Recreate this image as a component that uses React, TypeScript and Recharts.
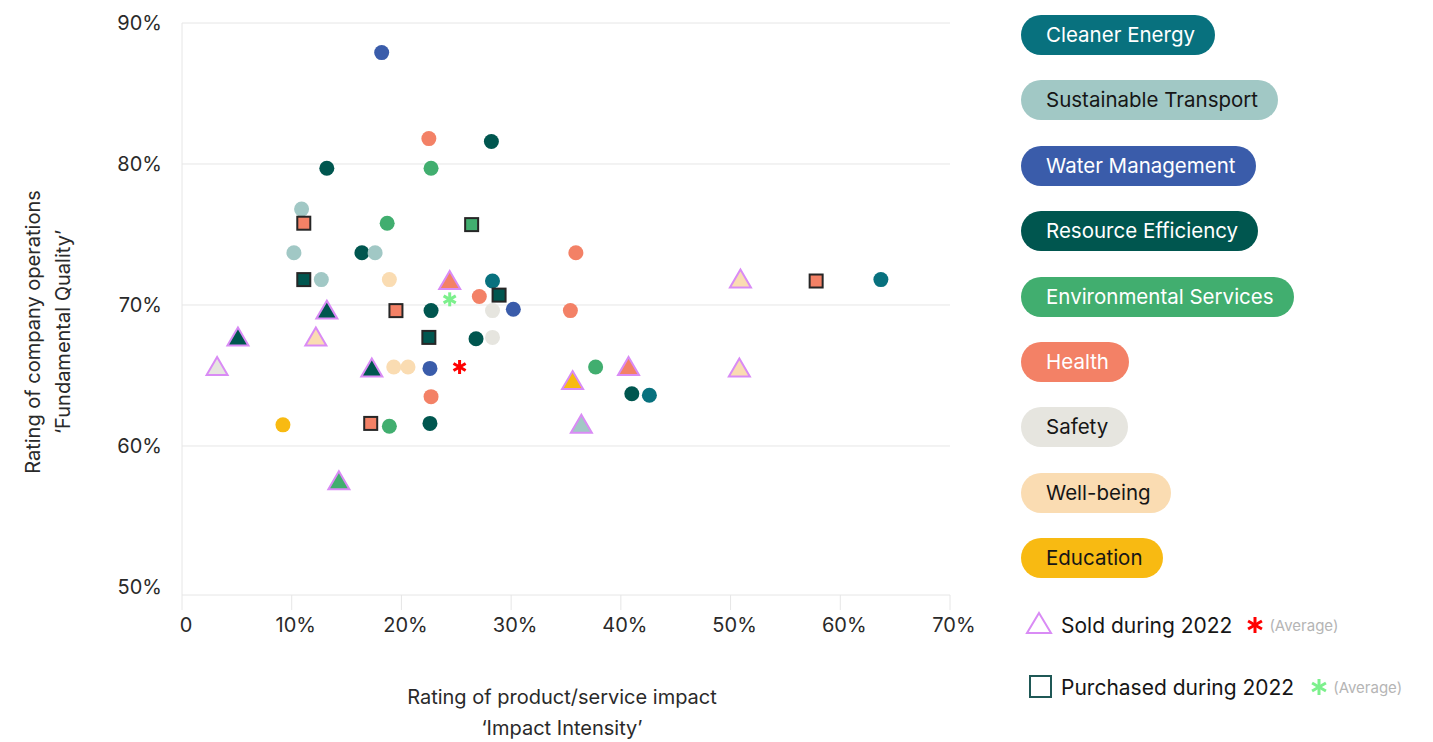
import React from 'react';
import { ScatterChart, Scatter, XAxis, YAxis, ReferenceLine } from 'recharts';

const categories = [
  'Cleaner Energy',
  'Sustainable Transport',
  'Water Management',
  'Resource Efficiency',
  'Environmental Services',
  'Health',
  'Safety',
  'Well-being',
  'Education',
];
const categoryColors = ['#08717e', '#a1c8c5', '#3a5caa', '#00564f', '#41ae6f', '#f38166', '#e6e5df', '#fadcb2', '#f8ba12'];
const categoryTextColors = ['#ffffff', '#161616', '#ffffff', '#ffffff', '#ffffff', '#ffffff', '#161616', '#161616', '#161616'];

const xTicks = [0, 10, 20, 30, 40, 50, 60, 70];
const yTicks = [50, 60, 70, 80, 90];
const yGridValues = [60, 70, 80, 90];

// holdings (circles), ordered roughly as drawn
const heldHoldings = [
  { category: 'Resource Efficiency', x: 13.2, y: 79.7 },
  { category: 'Resource Efficiency', x: 28.2, y: 81.6 },
  { category: 'Resource Efficiency', x: 16.4, y: 73.7 },
  { category: 'Resource Efficiency', x: 22.7, y: 69.6 },
  { category: 'Resource Efficiency', x: 26.8, y: 67.6 },
  { category: 'Resource Efficiency', x: 41.0, y: 63.7 },
  { category: 'Resource Efficiency', x: 22.6, y: 61.6 },
  { category: 'Cleaner Energy', x: 63.7, y: 71.8 },
  { category: 'Cleaner Energy', x: 42.6, y: 63.6 },
  { category: 'Cleaner Energy', x: 28.3, y: 71.7 },
  { category: 'Sustainable Transport', x: 10.9, y: 76.8 },
  { category: 'Sustainable Transport', x: 10.2, y: 73.7 },
  { category: 'Sustainable Transport', x: 17.6, y: 73.7 },
  { category: 'Sustainable Transport', x: 12.7, y: 71.8 },
  { category: 'Water Management', x: 18.2, y: 87.9 },
  { category: 'Water Management', x: 30.2, y: 69.7 },
  { category: 'Water Management', x: 22.6, y: 65.5 },
  { category: 'Environmental Services', x: 18.7, y: 75.8 },
  { category: 'Environmental Services', x: 22.7, y: 79.7 },
  { category: 'Environmental Services', x: 37.7, y: 65.6 },
  { category: 'Environmental Services', x: 18.9, y: 61.4 },
  { category: 'Health', x: 22.5, y: 81.8 },
  { category: 'Health', x: 35.9, y: 73.7 },
  { category: 'Health', x: 27.1, y: 70.6 },
  { category: 'Health', x: 35.4, y: 69.6 },
  { category: 'Health', x: 22.7, y: 63.5 },
  { category: 'Safety', x: 28.3, y: 69.6 },
  { category: 'Safety', x: 28.3, y: 67.7 },
  { category: 'Well-being', x: 18.9, y: 71.8 },
  { category: 'Well-being', x: 19.3, y: 65.6 },
  { category: 'Well-being', x: 20.6, y: 65.6 },
  { category: 'Education', x: 9.2, y: 61.5 },
];

// sold during 2022 (triangles)
const soldHoldings = [
  { category: 'Safety', x: 3.2, y: 65.6 },
  { category: 'Resource Efficiency', x: 5.1, y: 67.7 },
  { category: 'Well-being', x: 12.2, y: 67.7 },
  { category: 'Resource Efficiency', x: 13.2, y: 69.6 },
  { category: 'Resource Efficiency', x: 17.3, y: 65.5 },
  { category: 'Health', x: 24.4, y: 71.7 },
  { category: 'Environmental Services', x: 14.3, y: 57.5 },
  { category: 'Education', x: 35.6, y: 64.6 },
  { category: 'Health', x: 40.7, y: 65.6 },
  { category: 'Sustainable Transport', x: 36.4, y: 61.5 },
  { category: 'Well-being', x: 50.9, y: 71.8 },
  { category: 'Well-being', x: 50.8, y: 65.5 },
];

// purchased during 2022 (squares)
const purchasedHoldings = [
  { category: 'Health', x: 11.1, y: 75.8 },
  { category: 'Resource Efficiency', x: 11.1, y: 71.8 },
  { category: 'Health', x: 19.5, y: 69.6 },
  { category: 'Resource Efficiency', x: 22.5, y: 67.7 },
  { category: 'Environmental Services', x: 26.4, y: 75.7 },
  { category: 'Resource Efficiency', x: 28.9, y: 70.7 },
  { category: 'Health', x: 17.2, y: 61.6 },
  { category: 'Health', x: 57.8, y: 71.7 },
];

const soldAverage = [{ x: 25.3, y: 65.6 }];
const purchasedAverage = [{ x: 24.4, y: 70.4 }];

const FONT = 'Inter, "Liberation Sans", sans-serif';
const SOLD_STROKE = '#d98bf5';
const SOLD_AVG = '#ff0000';
const PURCHASED_AVG = '#7cf08c';
const GRID = '#e6e6e6';

const colorOf = (cat: string) => categoryColors[categories.indexOf(cat)] || '#999';

const CircleShape = (props: any) => {
  const { cx, cy, payload } = props;
  if (cx == null || cy == null) return null;
  return <circle cx={cx} cy={cy} r={7.5} fill={colorOf(payload.category)} />;
};

const TriangleShape = (props: any) => {
  const { cx, cy, payload } = props;
  if (cx == null || cy == null) return null;
  const pts = `${cx},${cy - 10} ${cx + 10.5},${cy + 8} ${cx - 10.5},${cy + 8}`;
  return <polygon points={pts} fill={colorOf(payload.category)} stroke={SOLD_STROKE} strokeWidth={2} />;
};

const SquareShape = (props: any) => {
  const { cx, cy, payload } = props;
  if (cx == null || cy == null) return null;
  return (
    <rect x={cx - 6.5} y={cy - 6.5} width={13} height={13} fill={colorOf(payload.category)} stroke="#262626" strokeWidth={2} />
  );
};

const asterisk = (cx: number, cy: number, color: string, r = 7) => (
  <g stroke={color} strokeWidth={3} strokeLinecap="butt">
    {[0, 60, 120].map((a) => {
      const rad = (a * Math.PI) / 180;
      const dx = Math.sin(rad) * r;
      const dy = Math.cos(rad) * r;
      return <line key={a} x1={cx - dx} y1={cy - dy} x2={cx + dx} y2={cy + dy} />;
    })}
  </g>
);

const AvgShape = (color: string) => (props: any) => {
  const { cx, cy } = props;
  if (cx == null || cy == null) return null;
  return asterisk(cx, cy, color);
};

const YTitleGroup = (props: any) => {
  const vb = props.viewBox || { x: 0, y: 23, width: 182, height: 572 };
  const cy = vb.y + vb.height / 2 + 23;
  return (
    <g fontFamily={FONT} fontSize={20} fill="#2a2a2a">
      <text x={vb.x + 33} y={cy} textAnchor="middle" dominantBaseline="central" transform={`rotate(-90 ${vb.x + 33} ${cy})`}>
        Rating of company operations
      </text>
      <text x={vb.x + 63} y={cy} textAnchor="middle" dominantBaseline="central" transform={`rotate(-90 ${vb.x + 63} ${cy})`}>
        ‘Fundamental Quality’
      </text>
    </g>
  );
};

const XTitleGroup = (props: any) => {
  const vb = props.viewBox || { x: 182, y: 595, width: 768, height: 45 };
  const cx = vb.x + 380;
  return (
    <g fontFamily={FONT} fontSize={20} fill="#2a2a2a">
      <text x={cx} y={vb.y + 102} textAnchor="middle" dominantBaseline="central">
        Rating of product/service impact
      </text>
      <text x={cx} y={vb.y + 133} textAnchor="middle" dominantBaseline="central">
        ‘Impact Intensity’
      </text>
    </g>
  );
};

const LegendPanel = () => (
  <div style={{ position: 'absolute', left: 1021, top: 15, fontFamily: FONT }}>
    {categories.map((c, i) => (
      <div
        key={c}
        style={{
          height: 40,
          lineHeight: '40px',
          marginBottom: 25.4,
          width: 'fit-content',
          padding: '0 20px 0 25px',
          borderRadius: 20,
          background: categoryColors[i],
          color: categoryTextColors[i],
          fontSize: 20.5,
          whiteSpace: 'nowrap',
        }}
      >
        {c}
      </div>
    ))}
    <div style={{ position: 'absolute', left: 0, top: 595, display: 'flex', alignItems: 'center', whiteSpace: 'nowrap' }}>
      <svg width={36} height={30}>
        <polygon points="18,3 30,23 6,23" fill="none" stroke={SOLD_STROKE} strokeWidth={2} />
      </svg>
      <span style={{ fontSize: 21, color: '#161616', marginLeft: 4 }}>Sold during 2022</span>
      <svg width={22} height={20} style={{ marginLeft: 12 }}>
        {asterisk(11, 10, SOLD_AVG, 8)}
      </svg>
      <span style={{ fontSize: 15, color: '#b5b5b5', marginLeft: 3 }}>(Average)</span>
    </div>
    <div style={{ position: 'absolute', left: 0, top: 657, display: 'flex', alignItems: 'center', whiteSpace: 'nowrap' }}>
      <svg width={36} height={30}>
        <rect x={9} y={4} width={21} height={21} fill="none" stroke="#1f5856" strokeWidth={2} />
      </svg>
      <span style={{ fontSize: 21, color: '#161616', marginLeft: 4 }}>Purchased during 2022</span>
      <svg width={22} height={20} style={{ marginLeft: 14 }}>
        {asterisk(11, 10, PURCHASED_AVG, 8)}
      </svg>
      <span style={{ fontSize: 15, color: '#b5b5b5', marginLeft: 3 }}>(Average)</span>
    </div>
  </div>
);

export default function App() {
  return (
    <div style={{ position: 'absolute', left: 0, top: 0, width: 1433, height: 742, background: '#fff', fontFamily: FONT }}>
      <ScatterChart width={1000} height={742} margin={{ top: 23, right: 50, bottom: 102, left: 0 }}>
        <XAxis
          type="number"
          dataKey="x"
          domain={[0, 70]}
          ticks={xTicks}
          allowDataOverflow
          tickFormatter={(v: number) => (v === 0 ? '0' : `${v}%`)}
          axisLine={{ stroke: GRID }}
          tickLine={{ stroke: GRID }}
          tickSize={15}
          tickMargin={8}
          tick={{ fill: '#2a2a2a', fontSize: 20, fontFamily: FONT, dx: 4 }}
          height={45}
          label={{ content: (p: any) => <XTitleGroup {...p} /> }}
        />
        <YAxis
          type="number"
          dataKey="y"
          domain={[49.43, 90]}
          ticks={yTicks}
          allowDataOverflow
          tickFormatter={(v: number) => `${v}%`}
          axisLine={{ stroke: GRID }}
          tickLine={false}
          tickSize={0}
          tickMargin={20}
          tick={{ fill: '#2a2a2a', fontSize: 20, fontFamily: FONT }}
          width={182}
          label={{ content: (p: any) => <YTitleGroup {...p} /> }}
        />
        {yGridValues.map((v) => (
          <ReferenceLine key={v} y={v} stroke={GRID} strokeWidth={1} />
        ))}
        <Scatter data={heldHoldings} shape={CircleShape} isAnimationActive={false} />
        <Scatter data={soldHoldings} shape={TriangleShape} isAnimationActive={false} />
        <Scatter data={purchasedHoldings} shape={SquareShape} isAnimationActive={false} />
        <Scatter data={soldAverage} shape={AvgShape(SOLD_AVG)} isAnimationActive={false} />
        <Scatter data={purchasedAverage} shape={AvgShape(PURCHASED_AVG)} isAnimationActive={false} />
      </ScatterChart>
      <LegendPanel />
    </div>
  );
}
